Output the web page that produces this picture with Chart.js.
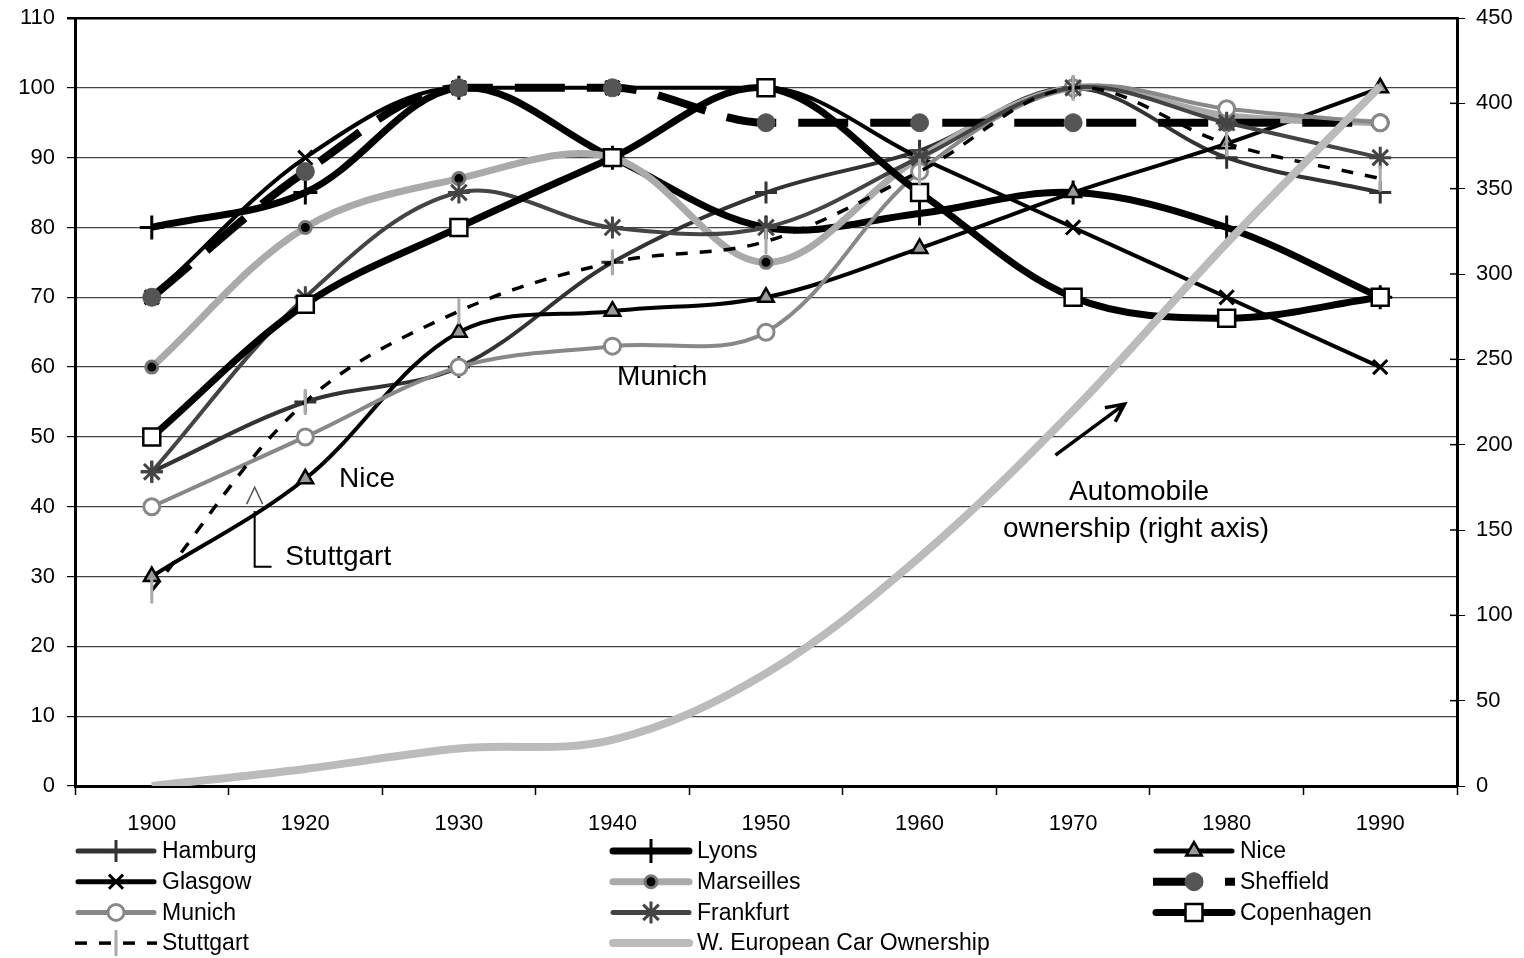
<!DOCTYPE html>
<html>
<head>
<meta charset="utf-8">
<script src="https://cdn.jsdelivr.net/npm/chart.js@4/dist/chart.umd.min.js"></script>
<style>
  html, body { margin: 0; padding: 0; background: #fff; }
  #wrap { width: 1524px; height: 958px; position: relative; }
</style>
</head>
<body>
<div id="wrap"><canvas id="c"></canvas></div>
<script>
// ---- data ----
const categories   = ['1900','1920','1930','1940','1950','1960','1970','1980','1990'];
const hamburg      = [45, 55, 60, 75, 85, 91, 100, 90, 85];
const lyons        = [80, 85, 100, 90, 80, 82, 85, 80, 70];
const nice         = [30, 44, 65, 68, 70, 77, 85, 92, 100];
const glasgow      = [70, 90, 100, 100, 100, 90, 80, 70, 60];
const marseilles   = [60, 80, 87, 90, 75, 90, 100, 96, 95];
const sheffield    = [70, 88, 100, 100, 95, 95, 95, 95, 95];
const munich       = [40, 50, 60, 63, 65, 88, 100, 97, 95];
const frankfurt    = [45, 70, 85, 80, 80, 90, 100, 95, 90];
const copenhagen   = [50, 69, 80, 90, 100, 85, 70, 67, 70];
const stuttgart    = [28, 55, 68, 75, 78, 88, 100, 92, 87];
const carOwnership = [0, 10, 22, 27, 66, 134, 220, 318, 410];

const leftAxis  = { min: 0, max: 110, step: 10 };
const rightAxis = { min: 0, max: 450, step: 50 };

// annotation texts (positions in category index / left-axis value)
const noteTexts = ['Munich', 'Nice', 'Stuttgart', 'Automobile', 'ownership (right axis)'];
const notePos = [
  { xi: 3.03, y: 58.5, align: 'left' },
  { xi: 1.22, y: 44.0, align: 'left' },
  { xi: 0.87, y: 32.8, align: 'left' },
  { xi: 6.43, y: 42.0, align: 'center' },
  { xi: 6.41, y: 36.8, align: 'center' }
];

const FONT = "'Liberation Sans', Arial, Helvetica, sans-serif";

function ds(label, data, st) {
  return Object.assign({
    label, data,
    tension: 0.35,
    fill: false,
    pointHoverRadius: 0,
    yAxisID: 'y'
  }, st);
}

const datasets = [
  ds('Hamburg', hamburg, { borderColor: '#333', borderWidth: 4, pointStyle: 'cross', pointRadius: 11, pointBorderWidth: 3, pointBorderColor: '#333', pointBackgroundColor: '#333' }),
  ds('Lyons', lyons, { borderColor: '#000', borderWidth: 7, pointStyle: 'cross', pointRadius: 12, pointBorderWidth: 3, pointBorderColor: '#000', pointBackgroundColor: '#000' }),
  ds('Nice', nice, { borderColor: '#000', borderWidth: 4, pointStyle: 'triangle', pointRadius: 9, pointBorderWidth: 2.5, pointBorderColor: '#000', pointBackgroundColor: '#999' }),
  ds('Glasgow', glasgow, { borderColor: '#000', borderWidth: 4, cubicInterpolationMode: 'monotone', pointStyle: 'crossRot', pointRadius: 10, pointBorderWidth: 3, pointBorderColor: '#000', pointBackgroundColor: '#000' }),
  ds('Marseilles', marseilles, { borderColor: '#aaa', borderWidth: 7, pointStyle: 'circle', pointRadius: 6, pointBorderWidth: 3, pointBorderColor: '#777', pointBackgroundColor: '#000' }),
  ds('Sheffield', sheffield, { borderColor: '#000', borderWidth: 8, borderDash: [50, 22], cubicInterpolationMode: 'monotone', pointStyle: 'circle', pointRadius: 9, pointBorderWidth: 1, pointBorderColor: '#555', pointBackgroundColor: '#555' }),
  ds('Munich', munich, { borderColor: '#888', borderWidth: 4, pointStyle: 'circle', pointRadius: 8, pointBorderWidth: 3, pointBorderColor: '#888', pointBackgroundColor: '#fff' }),
  ds('Frankfurt', frankfurt, { borderColor: '#444', borderWidth: 4, pointStyle: 'star', pointRadius: 11, pointBorderWidth: 3, pointBorderColor: '#444', pointBackgroundColor: '#444' }),
  ds('Copenhagen', copenhagen, { borderColor: '#000', borderWidth: 7, pointStyle: 'rect', pointRadius: 12, pointBorderWidth: 2.5, pointBorderColor: '#000', pointBackgroundColor: '#fff' }),
  ds('Stuttgart', stuttgart, { borderColor: '#000', borderWidth: 3.5, borderDash: [12, 12], pointStyle: 'line', pointRotation: 90, pointRadius: 13, pointBorderWidth: 3, pointBorderColor: '#aaa', pointBackgroundColor: '#aaa' }),
  ds('W. European Car Ownership', carOwnership, { borderColor: '#bbb', borderWidth: 8, pointRadius: 0, yAxisID: 'y1' })
];
// later series drawn on top (like the original)
datasets.forEach((d, i) => { d.order = datasets.length - i; });

// ---- custom marker drawing for the legend ----
function drawMarker(ctx, d, x, y) {
  const style = d.pointStyle, r = d.pointRadius || 0;
  if (!r) return;
  ctx.save();
  ctx.setLineDash([]);
  ctx.lineWidth = d.pointBorderWidth;
  ctx.strokeStyle = d.pointBorderColor;
  ctx.fillStyle = d.pointBackgroundColor;
  ctx.beginPath();
  if (style === 'circle') {
    ctx.arc(x, y, r, 0, Math.PI * 2); ctx.fill(); ctx.stroke();
  } else if (style === 'rect') {
    const s = r * Math.SQRT1_2;
    ctx.rect(x - s, y - s, 2 * s, 2 * s); ctx.fill(); ctx.stroke();
  } else if (style === 'triangle') {
    ctx.moveTo(x, y - r); ctx.lineTo(x + r * 0.866, y + r * 0.5); ctx.lineTo(x - r * 0.866, y + r * 0.5); ctx.closePath();
    ctx.fill(); ctx.stroke();
  } else if (style === 'cross') {
    ctx.moveTo(x, y - r); ctx.lineTo(x, y + r); ctx.moveTo(x - r, y); ctx.lineTo(x + r, y); ctx.stroke();
  } else if (style === 'crossRot') {
    const s = r * Math.SQRT1_2;
    ctx.moveTo(x - s, y - s); ctx.lineTo(x + s, y + s); ctx.moveTo(x - s, y + s); ctx.lineTo(x + s, y - s); ctx.stroke();
  } else if (style === 'star') {
    const s = r * Math.SQRT1_2;
    ctx.moveTo(x, y - r); ctx.lineTo(x, y + r); ctx.moveTo(x - r, y); ctx.lineTo(x + r, y);
    ctx.moveTo(x - s, y - s); ctx.lineTo(x + s, y + s); ctx.moveTo(x - s, y + s); ctx.lineTo(x + s, y - s); ctx.stroke();
  } else if (style === 'line') {
    ctx.moveTo(x, y - r); ctx.lineTo(x, y + r); ctx.stroke();
  }
  ctx.restore();
}

const legendPlugin = {
  id: 'colLegend',
  afterDraw(chart) {
    const ctx = chart.ctx;
    const colX = [75, 610, 1153];
    const rowY = 851, rowH = 30.7, sampleLen = 82;
    chart.data.datasets.forEach((d, i) => {
      const col = i % 3, row = Math.floor(i / 3);
      const x0 = colX[col], y = rowY + row * rowH;
      ctx.save();
      ctx.strokeStyle = d.borderColor;
      ctx.lineWidth = Math.max(d.borderWidth, 5);
      if (d.borderDash) { ctx.setLineDash(d.borderDash); ctx.lineCap = 'butt'; ctx.lineWidth = d.borderWidth; }
      else ctx.lineCap = 'round';
      ctx.beginPath();
      ctx.moveTo(x0 + (d.borderDash ? 0 : 3), y);
      ctx.lineTo(x0 + sampleLen - (d.borderDash ? 0 : 3), y);
      ctx.stroke();
      ctx.restore();
      drawMarker(ctx, d, x0 + sampleLen / 2, y);
      ctx.save();
      ctx.fillStyle = '#000';
      ctx.font = '23px ' + FONT;
      ctx.textBaseline = 'middle';
      ctx.textAlign = 'left';
      ctx.fillText(d.label, x0 + sampleLen + 5, y + 1);
      ctx.restore();
    });
  }
};

const notesPlugin = {
  id: 'notes',
  afterDatasetsDraw(chart) {
    const ctx = chart.ctx, xs = chart.scales.x, ys = chart.scales.y, y1 = chart.scales.y1;
    const P = (xi, v) => [xs.getPixelForValue(xi), ys.getPixelForValue(v)];
    ctx.save();
    // right-axis tick marks crossing into the plot
    ctx.strokeStyle = '#000';
    ctx.lineWidth = 1.5;
    y1.ticks.forEach((t) => {
      const py = y1.getPixelForValue(t.value);
      ctx.beginPath(); ctx.moveTo(chart.chartArea.right - 7, py); ctx.lineTo(chart.chartArea.right, py); ctx.stroke();
    });
    ctx.fillStyle = '#000';
    ctx.font = '28px ' + FONT;
    ctx.textBaseline = 'middle';
    noteTexts.forEach((t, i) => {
      const p = notePos[i];
      const [x, y] = P(p.xi, p.y);
      ctx.textAlign = p.align;
      ctx.fillText(t, x, y);
    });
    // Stuttgart bracket
    ctx.strokeStyle = '#000';
    ctx.lineWidth = 2;
    ctx.beginPath();
    let a = P(0.67, 39.4), b = P(0.67, 31.4), c = P(0.78, 31.4);
    ctx.moveTo(a[0], a[1]); ctx.lineTo(b[0], b[1]); ctx.lineTo(c[0], c[1]);
    ctx.stroke();
    // caret
    const cp = P(0.67, 42.8);
    ctx.strokeStyle = '#555';
    ctx.lineWidth = 1.5;
    ctx.beginPath();
    ctx.moveTo(cp[0] - 8, cp[1] + 17); ctx.lineTo(cp[0], cp[1]); ctx.lineTo(cp[0] + 8, cp[1] + 17);
    ctx.stroke();
    // arrow to car ownership line
    const s = P(5.885, 47.4), e = P(6.335, 54.7);
    ctx.strokeStyle = '#000';
    ctx.lineWidth = 3.5;
    ctx.beginPath();
    ctx.moveTo(s[0], s[1]); ctx.lineTo(e[0], e[1]);
    const ang = Math.atan2(e[1] - s[1], e[0] - s[0]);
    const L = 20;
    ctx.moveTo(e[0] - L * Math.cos(ang - 0.45), e[1] - L * Math.sin(ang - 0.45));
    ctx.lineTo(e[0], e[1]);
    ctx.lineTo(e[0] - L * Math.cos(ang + 0.45), e[1] - L * Math.sin(ang + 0.45));
    ctx.stroke();
    ctx.restore();
  }
};

const tickFont = { family: FONT, size: 22 };

new Chart(document.getElementById('c'), {
  type: 'line',
  data: { labels: categories, datasets },
  options: {
    responsive: true,
    maintainAspectRatio: false,
    animation: false,
    events: [],
    layout: { padding: { top: 18, bottom: 112, left: 0, right: 0 } },
    plugins: { legend: { display: false }, tooltip: { enabled: false } },
    elements: { line: { capBezierPoints: true } },
    scales: {
      x: {
        type: 'category',
        offset: true,
        grid: { drawOnChartArea: false, offset: true, tickLength: 9, tickColor: '#000', tickWidth: 1.5 },
        border: { color: '#000', width: 3 },
        ticks: { font: tickFont, color: '#000', padding: 16, maxRotation: 0 },
        afterFit(s) { s.height = 60; s.paddingLeft = 0; s.paddingRight = 0; }
      },
      y: {
        position: 'left',
        min: leftAxis.min, max: leftAxis.max,
        ticks: { stepSize: leftAxis.step, font: tickFont, color: '#000', padding: 12 },
        grid: {
          color: (c) => c.tick && c.tick.value === leftAxis.max ? '#000' : '#444',
          lineWidth: (c) => c.tick && c.tick.value === leftAxis.max ? 2.5 : 1.2,
          tickLength: 8, tickColor: '#000'
        },
        border: { color: '#000', width: 3 },
        afterFit(s) { s.width = 75; s.paddingTop = 0; s.paddingBottom = 0; }
      },
      y1: {
        position: 'right',
        min: rightAxis.min, max: rightAxis.max,
        ticks: { stepSize: rightAxis.step, font: tickFont, color: '#000', padding: 11 },
        grid: { drawOnChartArea: false, tickLength: 8, tickColor: '#000' },
        border: { color: '#000', width: 3 },
        afterFit(s) { s.width = 67; s.paddingTop = 0; s.paddingBottom = 0; }
      }
    }
  },
  plugins: [notesPlugin, legendPlugin]
});
</script>
</body>
</html>
